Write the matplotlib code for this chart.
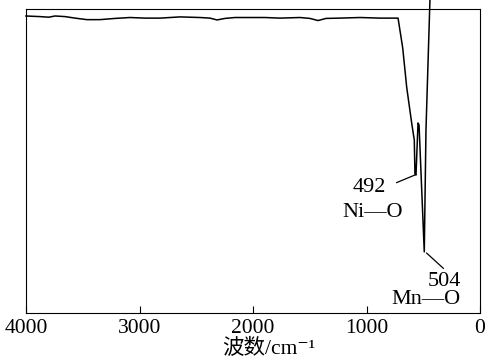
import numpy as np
import matplotlib.pyplot as plt

plt.rcParams['font.family'] = ['Liberation Serif', 'DejaVu Serif', 'Noto Sans CJK SC']

# IR spectrum, wavenumber (cm^-1) vs transmittance (arb. units)
wavenumber = [4000, 3877, 3800, 3744, 3656, 3568, 3463, 3348, 3216, 3084,
              2952, 2819, 2643, 2467, 2379, 2317, 2247, 2159, 2026, 1894,
              1762, 1586, 1498, 1427, 1357, 1233, 1057, 881, 722,
              681, 646, 602, 579, 573, 564, 546, 537, 491, 476, 441]
transmittance = [97.7, 97.5, 97.3, 97.7, 97.5, 97.0, 96.5, 96.5, 96.9, 97.2,
                 97.0, 97.0, 97.4, 97.2, 97.0, 96.4, 96.9, 97.2, 97.2, 97.2,
                 97.0, 97.2, 96.9, 96.2, 96.9, 97.0, 97.2, 97.0, 97.0,
                 87.2, 74.3, 62.5, 56.9, 45.7, 45.4, 62.5, 61.8, 20.1, 60.2, 103.0]

# peak labels: wavenumber value, bond, their positions and the leader line
peak_values = ['492', '504']
peak_bonds = ['Ni—O', 'Mn—O']
value_pos = [(973, 41.3), (313, 10.2)]
bond_pos = [(943, 32.9), (476, 4.3)]
leader_from = [(734, 42.9), (323, 14.7)]
leader_to = [(573, 45.4), (470, 19.7)]

fig = plt.figure(figsize=(4.86, 3.63), dpi=100)
ax = fig.add_axes([26/486, 50/363, 454/486, 304/363])

ax.plot(wavenumber, transmittance, color='black', lw=1.1, clip_on=False)

for val, bond, vp, bp, p0, p1 in zip(peak_values, peak_bonds, value_pos,
                                     bond_pos, leader_from, leader_to):
    ax.plot([p0[0], p1[0]], [p0[1], p1[1]], color='black', lw=0.9)
    ax.text(vp[0], vp[1], val, ha='center', va='center', fontsize=16)
    ax.text(bp[0], bp[1], bond, ha='center', va='center', fontsize=16)

ax.set_xlim(4000, 0)
ax.set_ylim(0, 100)
ax.set_xticks([4000, 3000, 2000, 1000, 0])
ax.set_yticks([])
ax.tick_params(axis='x', direction='in', length=5, width=0.8, pad=4,
               labelsize=15.5)
for sp in ax.spines.values():
    sp.set_linewidth(0.8)
ax.set_xlabel('波数/cm⁻¹', fontsize=15.5, labelpad=1)
ax.xaxis.label.set_x(0.534)

fig.savefig('out.png', dpi=100)
